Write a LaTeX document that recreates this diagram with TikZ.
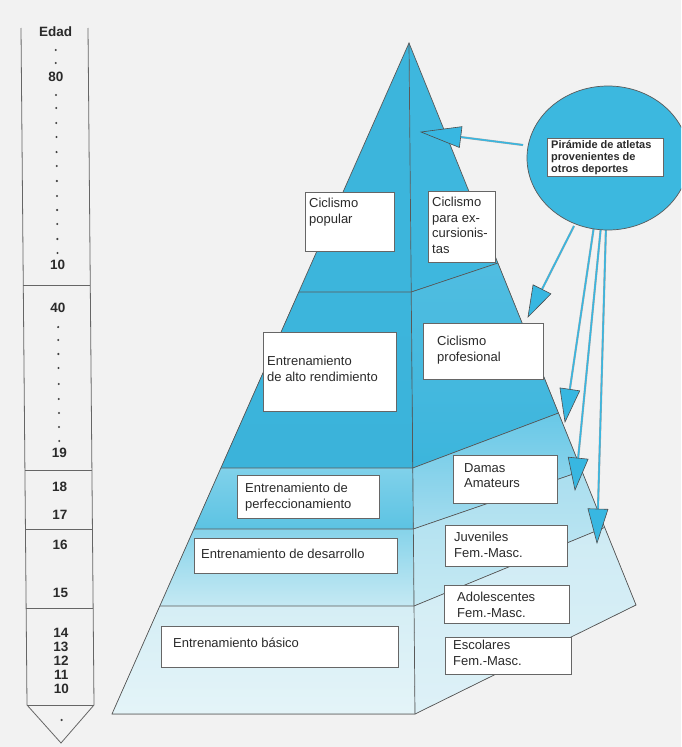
\documentclass[tikz,border=0pt]{standalone}
\usepackage{fontspec}
\setmainfont{Liberation Sans}
\usetikzlibrary{calc,shapes.geometric}
\definecolor{bg}{HTML}{F2F2F2}
\definecolor{cyA}{HTML}{3CB5DC}
\definecolor{cyB}{HTML}{3BB3DA}
\definecolor{arrowc}{HTML}{38B7E1}
\definecolor{circc}{HTML}{3CB8DF}
\definecolor{txtc}{HTML}{2A2A2A}
\definecolor{fThreeT}{RGB}{128,209,234}
\definecolor{fThreeB}{RGB}{92,195,227}
\definecolor{fFourT}{RGB}{134,211,234}
\definecolor{fFourB}{RGB}{197,233,243}
\definecolor{fFiveT}{RGB}{213,238,245}
\definecolor{fFiveB}{RGB}{228,244,248}
\definecolor{rOne}{RGB}{62,183,222}
\definecolor{rTwoT}{RGB}{80,189,225}
\definecolor{rThreeT}{RGB}{104,200,231}
\definecolor{rThreeB}{RGB}{164,220,238}
\definecolor{rFourT}{RGB}{170,222,239}
\definecolor{rFourB}{RGB}{197,233,243}
\definecolor{rFiveT}{RGB}{206,235,244}
\definecolor{rFiveB}{RGB}{222,241,247}
\newcommand\bigarrow[4]{%
  \coordinate (tmpb) at ($(#2)!#3!(#1)$);
  \draw[shaft] (#1) -- (tmpb);
  \filldraw[head] (#2) -- ($(tmpb)!#4!90:(#2)$) -- ($(tmpb)!#4!-90:(#2)$) -- cycle;}
\begin{document}
\begin{tikzpicture}[x=1pt,y=-1pt,
  pbox/.style={draw=black!60, fill=white, line width=0.8pt, inner sep=0pt, anchor=north west},
  ptxt/.style={font=\fontsize{13}{15.5}\selectfont, text=txtc, align=left, anchor=north west, inner sep=0pt},
  ctxt/.style={font=\fontsize{13.5}{16}\selectfont\bfseries, text=txtc, inner sep=0pt, anchor=center},
  edgeline/.style={draw=black!65, line width=0.7pt},
  colline/.style={draw=black!60, line width=0.8pt},
  shaft/.style={draw=black!35, line width=0.3pt, double=arrowc, double distance=1.5pt},
  head/.style={fill=arrowc, draw=black!70, line width=0.6pt, line join=miter}]
\useasboundingbox (0,0) rectangle (681,747);
\clip (0,0) rectangle (681,747);
\fill[bg] (0,0) rectangle (681,747);

% ---------- age column ----------
\coordinate (colTL) at (21,28);
\coordinate (colTR) at (88,28);
\coordinate (colBL) at (27,705);
\coordinate (colBR) at (94,705);
\coordinate (colTip) at (61,743);
\draw[colline] (colTL) -- (colBL) -- (colTip) -- (colBR) -- (colTR);
\draw[colline] (colBL) -- (colBR);
\foreach \y in {285,470,529,608}
  \draw[colline] ({21+6*(\y-28)/677},\y) -- ({88+6*(\y-28)/677},\y);
\foreach \y/\t [count=\i] in {32/Edad,77/80,265/10,308/40,453/19,487/18,515/17,545/16,593/15,633/14,647/13,661/12,675/11,689/10}
  \node[ctxt] (age\i) at ({55.5+6*(\y-28)/677},\y) {\t};
\foreach \y in {50,63,95,108,123,137,152,166,181,196,210,224,239,253,327,340,354,368,384,399,413,427,441,720}
  \fill[black!75] ({55.5+6*(\y-28)/677},\y) circle (1.15);

% ---------- pyramid ----------
\coordinate (A) at (409,43);
\coordinate (L1) at (298.8,292);
\coordinate (L2) at (220.9,468);
\coordinate (L3) at (193.9,529);
\coordinate (L4) at (159.8,606);
\coordinate (BL) at (112,714);
\coordinate (C1) at (411.2,292);
\coordinate (C2) at (412.8,468);
\coordinate (C3) at (413.3,529);
\coordinate (C4) at (414,606);
\coordinate (BC) at (415,714);
\coordinate (R1) at (497.9,263);
\coordinate (R2) at (558.5,413);
\coordinate (R3) at (581.9,471);
\coordinate (R4) at (604.7,527.4);
\coordinate (BR) at (636,605);

% front faces
\fill[cyA] (A) -- (L1) -- (C1) -- cycle;
\fill[top color=cyA, bottom color=cyB] (L1) -- (L2) -- (C2) -- (C1) -- cycle;
\fill[top color=fThreeT, bottom color=fThreeB] (L2) -- (L3) -- (C3) -- (C2) -- cycle;
\fill[top color=fFourT, bottom color=fFourB] (L3) -- (L4) -- (C4) -- (C3) -- cycle;
\fill[top color=fFiveT, bottom color=fFiveB] (L4) -- (BL) -- (BC) -- (C4) -- cycle;
% right faces
\fill[rOne] (A) -- (C1) -- (R1) -- cycle;
\fill[top color=rTwoT, bottom color=cyA] (C1) -- (R1) -- (R2) -- (C2) -- cycle;
\fill[top color=rThreeT, bottom color=rThreeB] (C2) -- (R2) -- (R3) -- (C3) -- cycle;
\fill[top color=rFourT, bottom color=rFourB] (C3) -- (R3) -- (R4) -- (C4) -- cycle;
\fill[top color=rFiveT, bottom color=rFiveB] (C4) -- (R4) -- (BR) -- (BC) -- cycle;
% edges
\draw[edgeline, line join=miter] (A) -- (BL) -- (BC) -- (BR) -- cycle;
\draw[edgeline] (A) -- (BC);
\draw[edgeline] (L1) -- (C1) -- (R1);
\draw[edgeline] (L2) -- (C2) -- (R2);
\draw[edgeline] (L3) -- (C3) -- (R3);
\draw[edgeline] (L4) -- (C4) -- (R4);

% ---------- boxes ----------
\node[pbox, minimum width=89, minimum height=59] (cpop) at (305,192) {};
\node[ptxt] (cpopt) at (309,198) {Ciclismo\\popular};
\node[pbox, minimum width=67, minimum height=71] (cexc) at (428,191) {};
\node[ptxt] (cexct) at (432,197) {Ciclismo\\para ex-\\cursionis-\\tas};
\node[pbox, minimum width=133, minimum height=79] (alto) at (263,332) {};
\node[ptxt] (altot) at (267,356) {Entrenamiento\\de alto rendimiento};
\node[pbox, minimum width=120, minimum height=56] (prof) at (423,323) {};
\node[ptxt] (proft) at (437,336) {Ciclismo\\profesional};
\node[pbox, minimum width=142, minimum height=43] (perf) at (237,475) {};
\node[ptxt] (perft) at (245,483) {Entrenamiento de\\perfeccionamiento};
\node[pbox, minimum width=104, minimum height=48] (damas) at (453,455) {};
\node[ptxt] (damast) at (464,463) {Damas\\Amateurs};
\node[pbox, minimum width=203, minimum height=35] (desa) at (194,538) {};
\node[ptxt] (desat) at (201,549) {Entrenamiento de desarrollo};
\node[pbox, minimum width=122, minimum height=41] (juv) at (445,525) {};
\node[ptxt] (juvt) at (454,532) {Juveniles\\Fem.-Masc.};
\node[pbox, minimum width=125, minimum height=38] (adol) at (444,585) {};
\node[ptxt] (adolt) at (457,592) {Adolescentes\\Fem.-Masc.};
\node[pbox, minimum width=126, minimum height=37] (esc) at (445,637) {};
\node[ptxt] (esct) at (453,640) {Escolares\\Fem.-Masc.};
\node[pbox, minimum width=237, minimum height=41] (bas) at (161,626) {};
\node[ptxt] (bast) at (173,638) {Entrenamiento básico};

% ---------- arrows ----------
\coordinate (S1) at (523,145);
\coordinate (S2) at (574,226);
\coordinate (S3) at (594,226);
\coordinate (S4) at (601,226);
\coordinate (S5) at (606,226);
\coordinate (T1) at (421,132);
\coordinate (T2) at (528,317);
\coordinate (T3) at (565,422);
\coordinate (T4) at (575,490);
\coordinate (T5) at (597,543);
\bigarrow{S1}{T1}{40pt}{10.5pt}
\bigarrow{S2}{T2}{31pt}{10pt}
\bigarrow{S3}{T3}{33pt}{10pt}
\bigarrow{S4}{T4}{32pt}{10pt}
\bigarrow{S5}{T5}{34pt}{10pt}

% ---------- circle ----------
\node[ellipse, draw=black!65, line width=0.7pt, fill=circc, minimum width=162, minimum height=144, inner sep=0pt] (circ) at (608,158) {};
\node[pbox, fill=white, minimum width=116, minimum height=38] (cbox) at (547,138) {};
\node[anchor=north west, inner sep=0pt, align=left, text=txtc, font=\fontsize{11}{12}\selectfont\bfseries] (cboxt) at (551,140) {Pirámide de atletas\\provenientes de\\otros deportes};
\end{tikzpicture}
\end{document}
